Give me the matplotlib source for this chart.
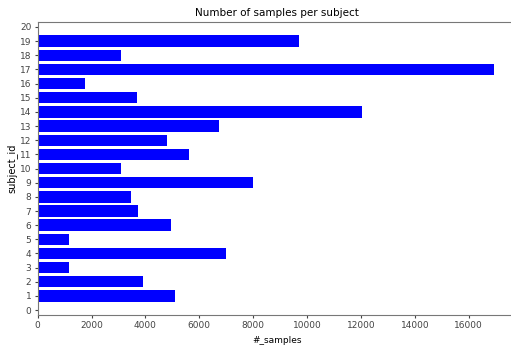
import matplotlib
matplotlib.use("Agg")
import matplotlib.pyplot as plt

# samples per subject
subject_ids = list(range(1, 20))
n_samples = [5080, 3900, 1170, 6990, 1150, 4950, 3730, 3480, 7990, 3100,
             5630, 4790, 6720, 12040, 3670, 1750, 16930, 3100, 9710]

fig = plt.figure(figsize=(5.11, 3.52), dpi=100)
# axes run a little past the right edge, the reference is cropped there
ax = fig.add_axes([0.0738, 0.105, 0.937, 0.8324])

ax.barh(subject_ids, n_samples, height=0.8, color='blue')
ax.set_yticks(range(0, 21))
ax.set_xticks(range(0, 17000, 2000))
ax.set_xlim(0, max(n_samples) * 1.05)
ax.set_ylim(-0.35, 20.35)
ax.tick_params(labelsize=6.5, length=2.5, pad=2, colors='#444444')
ax.set_title('Number of samples per subject', fontsize=7.5, pad=4)
ax.set_xlabel('#_samples', fontsize=6.5, labelpad=4)
ax.set_ylabel('subject_id', fontsize=7, labelpad=2)
for s in ax.spines.values():
    s.set_color('#777777')

fig.savefig('out.png', dpi=100)
